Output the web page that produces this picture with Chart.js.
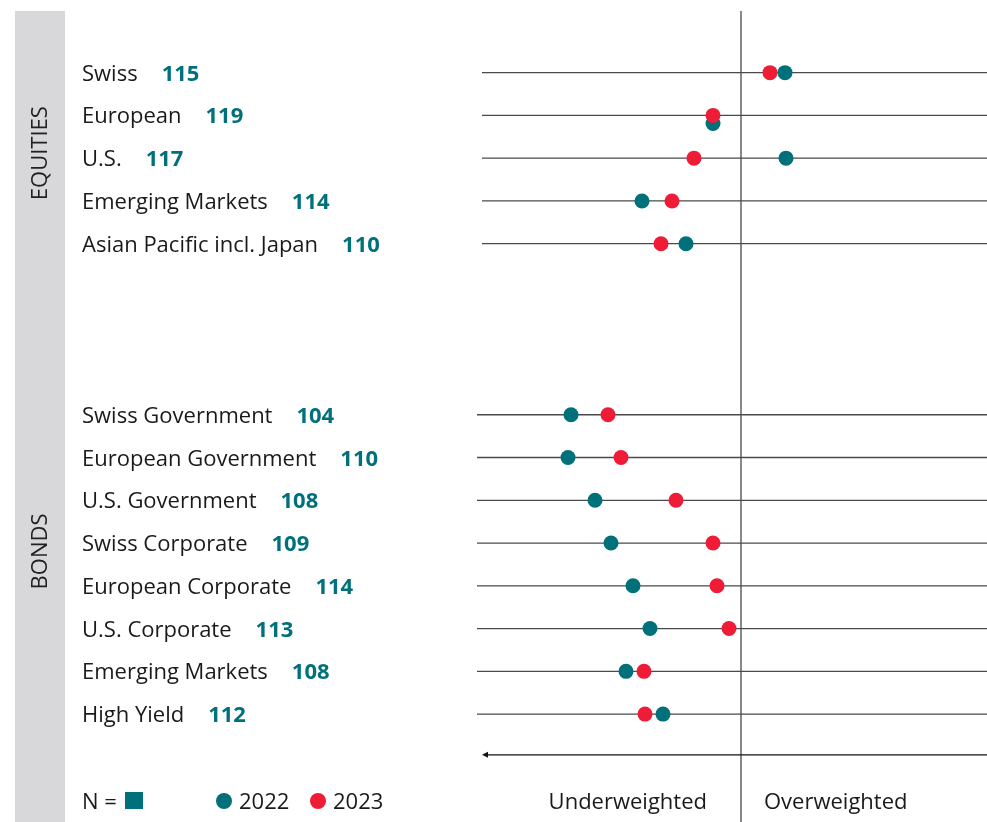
<!DOCTYPE html>
<html>
<head>
<meta charset="utf-8">
<script src="https://cdn.jsdelivr.net/npm/chart.js@4.4.1/dist/chart.umd.min.js"></script>
<style>
  html, body { margin: 0; padding: 0; background: #fff; }
  #chart { display: block; }
</style>
</head>
<body>
<canvas id="chart" width="987" height="822"></canvas>
<script>
// data
const equityNames = ['Swiss', 'European', 'U.S.', 'Emerging Markets', 'Asian Pacific incl. Japan'];
const equityCounts = [115, 119, 117, 114, 110];
const equity2022 = [4.4, -2.8, 4.5, -9.9, -5.5];
const equity2023 = [2.9, -2.8, -4.7, -6.9, -8.0];

const bondNames = ['Swiss Government', 'European Government', 'U.S. Government', 'Swiss Corporate',
  'European Corporate', 'U.S. Corporate', 'Emerging Markets', 'High Yield'];
const bondCounts = [104, 110, 108, 109, 114, 113, 108, 112];
const bond2022 = [-17.0, -17.3, -14.6, -13.0, -10.8, -9.1, -11.5, -7.8];
const bond2023 = [-13.3, -12.0, -6.5, -2.8, -2.4, -1.2, -9.7, -9.6];

const seriesNames = ['2022', '2023'];

const TEAL = '#00707b';
const RED = '#ee1c36';
const FONT = '"Open Sans", "Noto Sans", sans-serif';

// rows: equities first, then a gap, then bonds
const bondStart = equityNames.length + 3;
const rows = [];
equityNames.forEach((n, i) => rows.push({ name: n, count: equityCounts[i], a: equity2022[i], b: equity2023[i], slot: i, group: 0 }));
bondNames.forEach((n, i) => rows.push({ name: n, count: bondCounts[i], a: bond2022[i], b: bond2023[i], slot: bondStart + i, group: 1 }));
const arrowSlot = bondStart + bondNames.length;

// when both years sit on the same spot, push the 2022 dot a little down
const pts2022 = rows.map(r => ({ x: r.a, y: r.slot + (Math.abs(r.a - r.b) < 1 ? 0.19 : 0) }));
const pts2023 = rows.map(r => ({ x: r.b, y: r.slot }));

const decor = {
  id: 'decor',
  beforeDatasetsDraw(chart) {
    const { ctx, scales: { x, y } } = chart;
    const W = chart.width, H = chart.height;
    const x0 = x.getPixelForValue(0);
    ctx.save();

    // grey side band + group titles
    ctx.fillStyle = '#d8d8da';
    ctx.fillRect(15, 11, 50, H - 11);
    ctx.fillStyle = '#222';
    ctx.font = '22px ' + FONT;
    ctx.textAlign = 'center';
    ctx.textBaseline = 'middle';
    [['EQUITIES', 0, equityNames.length - 1, -5], ['BONDS', bondStart, arrowSlot - 1, -13]].forEach(([t, s0, s1, nudge]) => {
      const cy = (y.getPixelForValue(s0) + y.getPixelForValue(s1)) / 2 + nudge;
      ctx.save();
      ctx.translate(41, cy);
      ctx.rotate(-Math.PI / 2);
      ctx.fillText(t, 0, 0);
      ctx.restore();
    });

    // row lines + labels
    ctx.textAlign = 'left';
    ctx.textBaseline = 'alphabetic';
    rows.forEach(r => {
      const py = y.getPixelForValue(r.slot);
      ctx.strokeStyle = '#4a4a4a';
      ctx.lineWidth = 1.3;
      ctx.beginPath();
      ctx.moveTo(r.group === 0 ? 482 : 477, py);
      ctx.lineTo(W, py);
      ctx.stroke();

      ctx.font = '22px ' + FONT;
      ctx.fillStyle = '#1a1a1a';
      ctx.fillText(r.name, 82, py + 8);
      const w = ctx.measureText(r.name).width;
      ctx.font = 'bold 22px ' + FONT;
      ctx.fillStyle = TEAL;
      ctx.fillText(String(r.count), 82 + w + 24, py + 8);
    });

    // zero line
    ctx.strokeStyle = '#4a4a4a';
    ctx.lineWidth = 1.3;
    ctx.beginPath();
    ctx.moveTo(x0, 11);
    ctx.lineTo(x0, H);
    ctx.stroke();

    // arrow pointing to underweighted side
    const ay = y.getPixelForValue(arrowSlot) - 2;
    ctx.strokeStyle = '#111';
    ctx.lineWidth = 1.2;
    ctx.beginPath();
    ctx.moveTo(W, ay);
    ctx.lineTo(485, ay);
    ctx.stroke();
    ctx.fillStyle = '#111';
    ctx.beginPath();
    ctx.moveTo(482, ay);
    ctx.lineTo(488, ay - 3);
    ctx.lineTo(488, ay + 3);
    ctx.closePath();
    ctx.fill();

    // bottom texts
    const by = 809;
    ctx.font = '22px ' + FONT;
    ctx.fillStyle = '#1a1a1a';
    ctx.textAlign = 'right';
    ctx.fillText('Underweighted', x0 - 34, by);
    ctx.textAlign = 'left';
    ctx.fillText('Overweighted', x0 + 23, by);

    // legend
    ctx.fillText('N =', 82, by);
    ctx.fillStyle = TEAL;
    ctx.fillRect(125, 792, 18, 17);
    [[TEAL, 224], [RED, 318]].forEach(([c, cx], i) => {
      ctx.fillStyle = c;
      ctx.beginPath();
      ctx.arc(cx, 801, 8, 0, Math.PI * 2);
      ctx.fill();
      ctx.fillStyle = '#1a1a1a';
      ctx.fillText(seriesNames[i], cx + 15, by);
    });

    ctx.restore();
  }
};

new Chart(document.getElementById('chart'), {
  type: 'scatter',
  data: {
    datasets: [
      { label: seriesNames[0], data: pts2022, backgroundColor: TEAL, borderWidth: 0, pointRadius: 7.5, order: 2 },
      { label: seriesNames[1], data: pts2023, backgroundColor: RED, borderWidth: 0, pointRadius: 7.5, order: 1 }
    ]
  },
  options: {
    responsive: false,
    animation: false,
    clip: false,
    layout: { autoPadding: false, padding: { left: 477, right: 0, top: 8.5, bottom: 1 } },
    plugins: { legend: { display: false }, tooltip: { enabled: false } },
    scales: {
      x: { type: 'linear', min: -26.4, max: 24.6, display: false },
      y: { type: 'linear', min: -1.5, max: 17.5, reverse: true, display: false }
    }
  },
  plugins: [decor]
});
</script>
</body>
</html>
